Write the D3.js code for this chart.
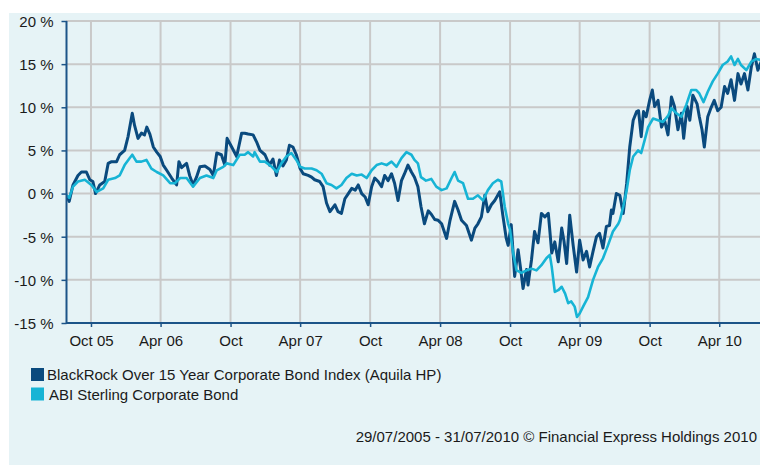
<!DOCTYPE html>
<html>
<head>
<meta charset="utf-8">
<script src="https://d3js.org/d3.v7.min.js"></script>
<style>
  body { margin: 0; background: #fff; }
  text { font-family: "Liberation Sans", Arial, sans-serif; fill: #1a1a1a; }
</style>
</head>
<body>
<svg id="chart" width="760" height="465"></svg>
<script>
// tick labels
const tickDates = ["2005-10-01","2006-04-01","2006-10-01","2007-04-01","2007-10-01",
                   "2008-04-01","2008-10-01","2009-04-01","2009-10-01","2010-04-01"]
const tickLabels = ["Oct 05","Apr 06","Oct","Apr 07","Oct","Apr 08","Oct","Apr 09","Oct","Apr 10"]
const yTicks = [-15, -10, -5, 0, 5, 10, 15, 20]

const seriesNames = ["BlackRock Over 15 Year Corporate Bond Index (Aquila HP)", "ABI Sterling Corporate Bond"]

// cumulative performance, %
const blackrock = [
  ["2005-07-29",-0.2],["2005-08-05",-0.9],["2005-08-15",1.0],["2005-08-28",2.1],["2005-09-06",2.5],
  ["2005-09-19",2.5],["2005-09-28",1.6],["2005-10-06",1.4],["2005-10-13",0.0],["2005-10-24",1.0],
  ["2005-11-06",1.4],["2005-11-15",3.5],["2005-11-24",3.7],["2005-12-07",3.7],["2005-12-15",4.5],
  ["2005-12-28",5.0],["2006-01-06",6.6],["2006-01-17",9.3],["2006-01-23",7.9],["2006-02-01",6.4],
  ["2006-02-10",7.0],["2006-02-18",6.8],["2006-02-24",7.7],["2006-03-04",6.9],["2006-03-13",5.4],
  ["2006-03-22",4.8],["2006-03-31",4.3],["2006-04-08",3.3],["2006-04-17",2.7],["2006-04-30",1.8],
  ["2006-05-13",1.0],["2006-05-19",3.7],["2006-05-26",3.0],["2006-06-08",3.5],["2006-06-16",2.1],
  ["2006-06-25",1.0],["2006-07-04",1.9],["2006-07-13",3.1],["2006-07-26",3.2],["2006-08-08",2.8],
  ["2006-08-17",2.1],["2006-08-26",4.7],["2006-09-07",4.5],["2006-09-16",3.3],["2006-09-22",6.4],
  ["2006-10-04",5.4],["2006-10-17",4.3],["2006-10-30",7.0],["2006-11-07",7.0],["2006-11-16",6.9],
  ["2006-11-29",6.8],["2006-12-08",6.0],["2006-12-17",5.0],["2006-12-30",4.5],["2007-01-11",3.3],
  ["2007-01-20",4.0],["2007-01-29",2.1],["2007-02-06",3.9],["2007-02-15",3.2],["2007-02-24",3.9],
  ["2007-03-04",5.6],["2007-03-13",5.4],["2007-03-22",4.5],["2007-04-01",2.9],["2007-04-09",2.3],
  ["2007-04-22",2.1],["2007-05-01",1.9],["2007-05-09",1.6],["2007-05-22",1.4],["2007-05-31",0.8],
  ["2007-06-09",-1.1],["2007-06-18",-2.1],["2007-07-01",-1.3],["2007-07-09",-2.1],["2007-07-18",-2.3],
  ["2007-07-27",-0.6],["2007-08-05",0.0],["2007-08-14",0.6],["2007-08-23",0.4],["2007-08-31",1.0],
  ["2007-09-09",0.0],["2007-09-18",-0.4],["2007-09-26",-1.3],["2007-10-05",0.8],["2007-10-13",1.8],
  ["2007-10-22",1.4],["2007-10-31",0.8],["2007-11-08",2.1],["2007-11-17",1.5],["2007-11-26",2.3],
  ["2007-12-04",1.2],["2007-12-13",-0.8],["2007-12-22",1.5],["2007-12-30",2.3],["2008-01-08",3.3],
  ["2008-01-17",2.5],["2008-01-25",1.9],["2008-02-03",0.8],["2008-02-11",-1.5],["2008-02-20",-3.5],
  ["2008-03-01",-2.0],["2008-03-09",-2.4],["2008-03-18",-3.0],["2008-03-27",-3.1],["2008-04-05",-3.5],
  ["2008-04-18",-5.2],["2008-04-27",-3.1],["2008-05-09",-0.9],["2008-05-18",-1.9],["2008-05-27",-3.1],
  ["2008-06-09",-3.7],["2008-06-22",-5.4],["2008-07-01",-4.0],["2008-07-09",-3.5],["2008-07-18",-2.7],
  ["2008-07-27",-0.2],["2008-08-04",-2.1],["2008-08-13",-1.3],["2008-08-22",-0.8],["2008-09-04",0.2],
  ["2008-09-12",-2.5],["2008-09-21",-5.2],["2008-09-26",-6.0],["2008-10-04",-3.6],["2008-10-13",-9.6],
  ["2008-10-22",-6.5],["2008-10-28",-8.5],["2008-11-04",-11.0],["2008-11-13",-8.8],["2008-11-17",-10.6],
  ["2008-11-26",-7.7],["2008-12-04",-4.4],["2008-12-13",-5.7],["2008-12-22",-2.3],["2008-12-31",-2.7],
  ["2009-01-09",-2.3],["2009-01-13",-4.3],["2009-01-18",-6.9],["2009-01-26",-5.6],["2009-02-04",-7.9],
  ["2009-02-13",-4.0],["2009-02-19",-5.5],["2009-02-26",-8.1],["2009-03-06",-2.5],["2009-03-15",-6.0],
  ["2009-03-24",-9.1],["2009-04-01",-5.4],["2009-04-10",-7.7],["2009-04-19",-6.7],["2009-04-27",-8.5],
  ["2009-05-06",-6.7],["2009-05-15",-5.0],["2009-05-23",-4.6],["2009-06-01",-6.3],["2009-06-10",-3.8],
  ["2009-06-18",-3.7],["2009-06-23",-1.9],["2009-06-27",-2.3],["2009-07-06",0.0],["2009-07-15",-0.2],
  ["2009-07-24",-2.3],["2009-08-02",1.2],["2009-08-10",5.4],["2009-08-19",8.5],["2009-08-28",9.5],
  ["2009-09-02",9.6],["2009-09-09",6.6],["2009-09-15",9.5],["2009-09-22",8.9],["2009-10-01",10.8],
  ["2009-10-08",12.0],["2009-10-14",10.1],["2009-10-23",10.8],["2009-11-01",7.7],["2009-11-09",8.5],
  ["2009-11-18",6.8],["2009-11-27",11.2],["2009-12-05",10.1],["2009-12-14",7.4],["2009-12-23",9.3],
  ["2009-12-29",6.4],["2010-01-07",10.1],["2010-01-14",8.5],["2010-01-22",11.4],["2010-02-02",10.4],
  ["2010-02-08",8.9],["2010-02-15",7.4],["2010-02-21",5.4],["2010-03-02",8.9],["2010-03-11",10.0],
  ["2010-03-19",10.8],["2010-03-28",9.6],["2010-04-06",10.0],["2010-04-15",12.4],["2010-04-23",11.6],
  ["2010-05-02",13.2],["2010-05-11",10.8],["2010-05-20",13.9],["2010-05-28",12.7],["2010-06-06",13.9],
  ["2010-06-15",12.0],["2010-06-24",14.7],["2010-07-02",16.2],["2010-07-11",14.3],["2010-07-21",15.4],
  ["2010-07-30",15.0]
]

const abiSterling = [
  ["2005-07-29",-0.2],["2005-08-05",-0.5],["2005-08-15",0.8],["2005-08-28",1.4],["2005-09-15",1.6],
  ["2005-10-02",1.0],["2005-10-16",0.2],["2005-11-02",0.6],["2005-11-15",1.6],["2005-12-03",1.8],
  ["2005-12-15",2.1],["2005-12-28",3.3],["2006-01-10",4.1],["2006-01-17",4.5],["2006-01-28",3.7],
  ["2006-02-10",3.7],["2006-02-23",3.9],["2006-03-08",2.9],["2006-03-22",2.5],["2006-04-08",2.1],
  ["2006-04-26",1.2],["2006-05-09",1.2],["2006-05-22",1.8],["2006-06-08",1.8],["2006-06-25",0.8],
  ["2006-07-13",1.8],["2006-07-30",2.1],["2006-08-17",1.8],["2006-08-26",2.7],["2006-09-12",3.1],
  ["2006-09-21",3.5],["2006-10-08",3.3],["2006-10-25",4.5],["2006-11-07",4.5],["2006-11-16",4.8],
  ["2006-11-29",4.3],["2006-12-03",4.8],["2006-12-17",3.7],["2006-12-30",3.7],["2007-01-17",3.1],
  ["2007-01-30",2.5],["2007-02-11",3.5],["2007-02-24",4.3],["2007-03-09",4.7],["2007-03-22",3.9],
  ["2007-04-01",3.1],["2007-04-13",2.9],["2007-05-01",2.9],["2007-05-14",2.7],["2007-05-27",2.3],
  ["2007-06-09",1.2],["2007-06-22",1.0],["2007-07-05",0.6],["2007-07-18",1.0],["2007-07-31",1.8],
  ["2007-08-14",2.3],["2007-08-27",2.1],["2007-09-09",2.2],["2007-09-22",1.8],["2007-10-05",2.7],
  ["2007-10-18",3.3],["2007-10-31",3.5],["2007-11-13",3.3],["2007-11-26",3.7],["2007-12-09",3.1],
  ["2007-12-22",4.1],["2008-01-04",4.8],["2008-01-17",4.5],["2008-01-25",3.9],["2008-02-03",3.5],
  ["2008-02-11",1.9],["2008-02-24",1.5],["2008-03-09",1.7],["2008-03-22",0.8],["2008-04-05",0.4],
  ["2008-04-18",0.6],["2008-05-01",1.8],["2008-05-09",2.5],["2008-05-18",1.5],["2008-05-31",1.2],
  ["2008-06-13",-0.6],["2008-06-26",-0.6],["2008-07-09",-0.2],["2008-07-22",-0.8],["2008-08-04",0.4],
  ["2008-08-17",1.2],["2008-08-30",1.6],["2008-09-08",1.4],["2008-09-17",-1.5],["2008-09-26",-3.5],
  ["2008-10-01",-4.2],["2008-10-09",-6.9],["2008-10-18",-8.9],["2008-10-31",-9.2],["2008-11-13",-8.9],
  ["2008-11-26",-8.7],["2008-12-09",-8.9],["2008-12-22",-8.3],["2009-01-04",-7.5],["2009-01-13",-7.1],
  ["2009-01-18",-8.5],["2009-01-26",-11.4],["2009-02-04",-11.2],["2009-02-13",-10.8],["2009-02-22",-11.6],
  ["2009-03-02",-12.7],["2009-03-10",-12.5],["2009-03-19",-13.1],["2009-03-25",-14.3],["2009-04-01",-13.9],
  ["2009-04-10",-13.1],["2009-04-23",-12.0],["2009-05-06",-10.0],["2009-05-19",-8.5],["2009-06-01",-7.5],
  ["2009-06-14",-6.0],["2009-06-27",-4.4],["2009-07-11",-3.5],["2009-07-15",-3.1],["2009-07-24",-1.5],
  ["2009-08-02",0.4],["2009-08-10",2.7],["2009-08-19",4.3],["2009-09-01",5.0],["2009-09-09",4.7],
  ["2009-09-18",6.2],["2009-09-27",7.7],["2009-10-10",8.7],["2009-10-23",8.5],["2009-11-05",8.3],
  ["2009-11-18",9.0],["2009-11-27",9.9],["2009-12-10",9.3],["2009-12-23",8.9],["2010-01-05",10.3],
  ["2010-01-18",12.0],["2010-01-31",12.0],["2010-02-08",11.6],["2010-02-19",10.6],["2010-03-02",11.8],
  ["2010-03-15",13.0],["2010-03-28",13.9],["2010-04-10",14.9],["2010-04-23",15.3],["2010-05-02",15.9],
  ["2010-05-11",14.9],["2010-05-20",15.6],["2010-05-28",14.9],["2010-06-11",14.3],["2010-06-24",15.3],
  ["2010-07-07",15.6],["2010-07-16",15.5],["2010-07-30",15.8]
]

const colors = ["#0a4a7e", "#17b4d5"]
const widths = [3, 2.6]

const svg = d3.select("#chart")
const parse = d3.timeParse("%Y-%m-%d")

// background panel
svg.append("rect")
  .attr("x", 9).attr("y", 13)
  .attr("width", 751).attr("height", 452)
  .attr("fill", "#e6f3f6")

const x = d3.scaleTime()
  .domain([parse("2005-07-29"), parse("2010-07-31")])
  .range([66.5, 765.5])

const y = d3.scaleLinear()
  .domain([-15, 20])
  .range([323, 21])

// grid
svg.append("g").selectAll("line").data(yTicks).enter().append("line")
  .attr("x1", 66).attr("x2", 760)
  .attr("y1", d => y(d)).attr("y2", d => y(d))
  .attr("stroke", "#c9c9c9").attr("stroke-width", 2)

svg.append("g").selectAll("line").data(tickDates).enter().append("line")
  .attr("x1", d => x(parse(d))).attr("x2", d => x(parse(d)))
  .attr("y1", y(20)).attr("y2", y(-15))
  .attr("stroke", "#c9c9c9").attr("stroke-width", 2)

// lines
svg.append("clipPath").attr("id", "clip")
  .append("rect").attr("x", 66).attr("y", 0).attr("width", 694).attr("height", 330)

const line = d3.line()
  .x(d => x(parse(d[0])))
  .y(d => y(d[1]))

const plot = svg.append("g").attr("clip-path", "url(#clip)")
;[blackrock, abiSterling].forEach((s, i) => {
  plot.append("path")
    .datum(s)
    .attr("d", line)
    .attr("fill", "none")
    .attr("stroke", colors[i])
    .attr("stroke-width", widths[i])
    .attr("stroke-linejoin", "round")
})

// axes
const yAxis = d3.axisLeft(y)
  .tickValues(yTicks)
  .tickSize(5)
  .tickPadding(8)
  .tickFormat(d => d + " %")
const gy = svg.append("g").attr("transform", "translate(66.5,0)").call(yAxis)

const xAxis = d3.axisBottom(x)
  .tickValues(tickDates.map(parse))
  .tickSize(4)
  .tickPadding(8)
  .tickFormat((d, i) => tickLabels[i])
const gx = svg.append("g").attr("transform", `translate(0,${y(-15)})`).call(xAxis)

;[gx, gy].forEach(g => {
  g.select(".domain").attr("stroke", "#1c5488").attr("stroke-width", 2)
  g.selectAll(".tick line").attr("stroke", "#1c5488").attr("stroke-width", 1.5)
  g.selectAll(".tick text")
    .attr("font-family", "'Liberation Sans', Arial, sans-serif")
    .attr("font-size", 15).attr("fill", "#1a1a1a")
})
gx.select(".domain").attr("d", `M66,0H760`)
gy.select(".domain").attr("d", `M0,${y(20)}V${y(-15) + 1}`)
gy.selectAll(".tick text").attr("dy", "0.36em")

// legend
const legend = svg.append("g").attr("transform", "translate(31,368)")
seriesNames.forEach((name, i) => {
  const row = legend.append("g").attr("transform", `translate(0,${i * 19.5})`)
  row.append("rect").attr("width", 13).attr("height", 13).attr("fill", colors[i])
  row.append("text").attr("x", i === 0 ? 16 : 18).attr("y", 12)
    .attr("font-size", 15).text(name)
})

// footer
svg.append("text")
  .attr("x", 757).attr("y", 442)
  .attr("text-anchor", "end")
  .attr("font-size", 15)
  .text("29/07/2005 - 31/07/2010 \u00a9 Financial Express Holdings 2010")
</script>
</body>
</html>
